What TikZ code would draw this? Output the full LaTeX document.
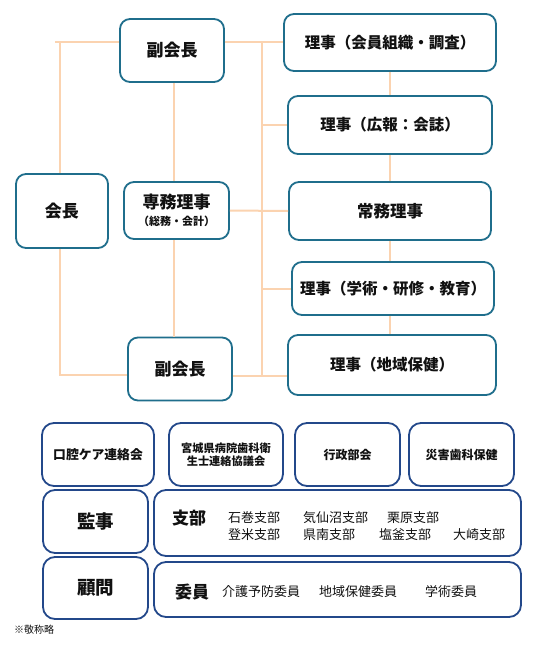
\documentclass[tikz,border=0pt]{standalone}
\usepackage{fontspec}
\setmainfont{Noto Sans CJK JP}
\definecolor{teal1}{HTML}{1F6E8C}
\definecolor{navy1}{HTML}{23488A}
\definecolor{peach}{HTML}{FBD3B0}
\definecolor{ink}{HTML}{111111}
\begin{document}
\begin{tikzpicture}[x=1pt,y=-1pt,
  topbox/.style={draw=teal1, line width=1.8pt, rounded corners=10pt, fill=white, inner sep=0pt, align=center, text=ink, font=\bfseries\fontsize{15.5}{18}\selectfont},
  botbox/.style={draw=navy1, line width=1.8pt, rounded corners=12pt, fill=white, inner sep=0pt, align=center, text=ink, font=\bfseries\fontsize{12.8}{15}\selectfont},
  link/.style={draw=peach, line width=2pt},
  big/.style={font=\bfseries\fontsize{17}{20}\selectfont},
  item/.style={inner sep=0pt, anchor=west, text=ink, font=\fontsize{13}{15}\selectfont}]
\path[use as bounding box, fill=white] (0,0) rectangle (557,665);
% top section
\node[topbox, big, minimum width=104pt, minimum height=63pt] (vp1) at (172,50.5) {副会長};
\node[topbox, big, minimum width=92pt, minimum height=74pt] (pres) at (62,211) {会長};
\node[topbox, minimum width=105pt, minimum height=57pt] (sen) at (176.5,210.5) {{\fontsize{17}{19}\selectfont 専務理事}\\[-1pt]{\fontsize{11}{12}\selectfont （総務・会計）}};
\node[topbox, big, minimum width=104pt, minimum height=63pt] (vp2) at (180,369) {副会長};
\node[topbox, minimum width=212pt, minimum height=57pt] (r1) at (390,42.5) {理事（会員組織・調査）};
\node[topbox, minimum width=204pt, minimum height=58pt] (r2) at (390,125) {理事（広報：会誌）};
\node[topbox, minimum width=202pt, minimum height=58pt, font=\bfseries\fontsize{16.5}{18}\selectfont] (r3) at (390,211) {常務理事};
\node[topbox, minimum width=202pt, minimum height=53pt] (r4) at (393,288.5) {理事（学術・研修・教育）};
\node[topbox, minimum width=208pt, minimum height=60pt] (r5) at (392,365) {理事（地域保健）};
% connectors
\coordinate (lt) at (55,42);
\coordinate (lc) at (60,42);
\coordinate (lb) at (60,375);
\coordinate (cx) at (174,0);
\coordinate (st) at (262,42);
\coordinate (sb) at (262,376);
\coordinate (rx) at (390,0);
\draw[link] (lt) -- (vp1.west |- lt);
\draw[link] (lc) -- (pres.north -| lc);
\draw[link] (pres.south -| lb) -- (lb) -- (vp2.west |- lb);
\draw[link] (vp1.south -| cx) -- (sen.north -| cx);
\draw[link] (sen.south -| cx) -- (vp2.north -| cx);
\draw[link] (vp1.east |- st) -- (r1.west |- st);
\draw[link] (st) -- (sb);
\draw[link] (st |- r2.west) -- (r2.west);
\draw[link] (sen.east) -- (r3.west);
\draw[link] (st |- r4.west) -- (r4.west);
\draw[link] (vp2.east |- sb) -- (r5.west |- sb);
\draw[link] (r1.south -| rx) -- (r2.north -| rx);
\draw[link] (r2.south -| rx) -- (r3.north -| rx);
\draw[link] (r3.south -| rx) -- (r4.north -| rx);
\draw[link] (r4.south -| rx) -- (r5.north -| rx);
% bottom section
\node[botbox, minimum width=112pt, minimum height=63pt] (b1) at (98,454.5) {口腔ケア連絡会};
\node[botbox, minimum width=114pt, minimum height=63pt, font=\bfseries\fontsize{11.2}{13}\selectfont] (b2) at (226,454.5) {宮城県病院歯科衛\\生士連絡協議会};
\node[botbox, minimum width=105pt, minimum height=63pt, font=\bfseries\fontsize{12}{14}\selectfont] (b3) at (347.5,454.5) {行政部会};
\node[botbox, minimum width=105pt, minimum height=63pt, font=\bfseries\fontsize{12}{14}\selectfont] (b4) at (461.5,454.5) {災害歯科保健};
\node[botbox, minimum width=105pt, minimum height=63pt, font=\bfseries\fontsize{18.5}{20}\selectfont] (kan) at (95.5,521.5) {監事};
\node[botbox, minimum width=367pt, minimum height=66pt] (shibu) at (337.5,523) {};
\node[botbox, minimum width=105pt, minimum height=62pt, font=\bfseries\fontsize{18.5}{20}\selectfont] (kom) at (95.5,588) {顧問};
\node[botbox, minimum width=367pt, minimum height=55pt] (iin) at (337.5,589.5) {};
\node[inner sep=0pt, text=ink, font=\bfseries\fontsize{17}{20}\selectfont] (shibuL) at (189,518) {支部};
\node[item] (s1) at (228,518) {石巻支部};
\node[item] (s2) at (303,518) {気仙沼支部};
\node[item] (s3) at (387,518) {栗原支部};
\node[item] (s4) at (228,535) {登米支部};
\node[item] (s5) at (303,535) {県南支部};
\node[item] (s6) at (379,535) {塩釜支部};
\node[item] (s7) at (453,535) {大崎支部};
\node[inner sep=0pt, text=ink, font=\bfseries\fontsize{17}{20}\selectfont] (iinL) at (192,592) {委員};
\node[item] (i1) at (222,592) {介護予防委員};
\node[item] (i2) at (319,592) {地域保健委員};
\node[item] (i3) at (425,592) {学術委員};
\node[inner sep=0pt, anchor=west, text=ink, font=\fontsize{10}{12}\selectfont] (note) at (14,630) {※敬称略};
\end{tikzpicture}
\end{document}
